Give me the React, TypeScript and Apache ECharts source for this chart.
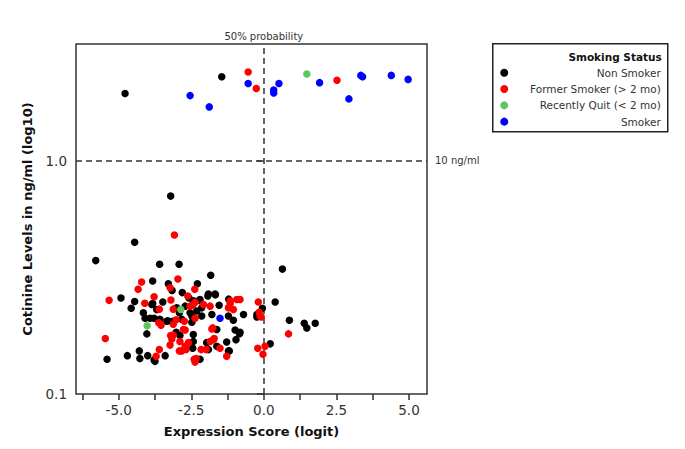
import React, { useEffect, useRef } from 'react';
import * as echarts from 'echarts';

const seriesNames = ['Non Smoker', 'Former Smoker (> 2 mo)', 'Recently Quit (< 2 mo)', 'Smoker'];
const seriesColors = ['#000000', '#ff0000', '#5fc65f', '#0000ff'];
const legendTitle = 'Smoking Status';
const xAxisTitle = 'Expression Score (logit)';
const yAxisTitle = 'Cotinine Levels in ng/ml (log10)';
const vLineLabel = '50% probability';
const hLineLabel = '10 ng/ml';

const nonSmoker: number[][] = [
  [-4.78, 1.94], [-1.45, 2.29],
  [-3.21, 0.705], [-4.45, 0.447], [-5.79, 0.373], [-3.59, 0.36], [-2.92, 0.36],
  [-1.83, 0.323], [-3.83, 0.305], [-3.29, 0.297], [-3.16, 0.278], [-2.29, 0.297],
  [-2.81, 0.272], [-4.92, 0.258], [-1.93, 0.263], [-1.67, 0.266], [-2.22, 0.252],
  [-2.58, 0.258], [-4.45, 0.249], [-1.21, 0.255], [-5.4, 0.141], [-4.7, 0.146],
  [-4.29, 0.153], [-4.27, 0.142], [-4.0, 0.146], [-3.75, 0.138], [-3.4, 0.146],
  [-4.03, 0.181], [-4.57, 0.233], [-4.15, 0.223], [-4.09, 0.211], [-3.92, 0.211],
  [-3.69, 0.23], [-3.58, 0.209], [-3.86, 0.242], [-3.31, 0.206], [-3.14, 0.205],
  [-2.91, 0.223], [-2.83, 0.209], [-3.02, 0.184], [-2.43, 0.18], [-2.43, 0.168],
  [-2.2, 0.141], [-1.97, 0.166], [-1.62, 0.16], [-1.28, 0.167], [-1.19, 0.153],
  [-1.62, 0.189], [-1.05, 0.207], [-1.22, 0.216], [-0.99, 0.188], [-0.82, 0.184],
  [-0.7, 0.219], [-0.24, 0.219], [-2.2, 0.254], [-1.68, 0.268], [-1.91, 0.268],
  [-2.14, 0.216], [-1.79, 0.219], [-2.48, 0.216], [-2.71, 0.238], [-2.31, 0.227],
  [-3.0, 0.234], [0.64, 0.343], [0.39, 0.248], [-0.24, 0.214], [0.88, 0.207],
  [1.39, 0.201], [1.48, 0.192], [1.77, 0.201], [0.22, 0.164], [-0.84, 0.181],
  [-0.96, 0.171], [-1.22, 0.153], [-0.05, 0.233], [-3.83, 0.244], [-3.48, 0.248],
  [-2.54, 0.223], [-2.43, 0.251], [-3.78, 0.211], [-3.34, 0.205], [-2.89, 0.178],
  [-2.48, 0.203], [-3.78, 0.14], [-1.54, 0.24], [-2.14, 0.234], [-1.91, 0.155],
  [-2.45, 0.157],
];

const formerSmoker: number[][] = [
  [-0.54, 2.4], [-0.26, 2.04], [2.52, 2.21],
  [-3.08, 0.48], [-4.21, 0.302], [-4.33, 0.281], [-2.96, 0.311], [-3.23, 0.285],
  [-2.38, 0.281], [-5.33, 0.252], [-3.78, 0.261], [-2.62, 0.263], [-3.2, 0.253],
  [-4.1, 0.245], [-0.93, 0.254], [-5.46, 0.173], [-3.71, 0.145], [-3.6, 0.155],
  [-3.62, 0.202], [-3.54, 0.197], [-3.6, 0.231], [-3.02, 0.208], [-2.71, 0.188],
  [-3.21, 0.178], [-2.6, 0.166], [-2.91, 0.153], [-3.23, 0.162], [-2.71, 0.16],
  [-2.33, 0.142], [-1.99, 0.155], [-1.85, 0.168], [-1.71, 0.173], [-1.51, 0.157],
  [-1.28, 0.145], [-1.79, 0.19], [-0.21, 0.157], [-2.08, 0.242], [-1.85, 0.238],
  [-1.16, 0.251], [-2.37, 0.211], [-2.37, 0.247], [-2.54, 0.238], [-0.19, 0.248],
  [-0.13, 0.216], [0.85, 0.181], [0.04, 0.16], [-0.03, 0.148], [-1.16, 0.244],
  [-1.76, 0.192], [-2.37, 0.137], [-0.16, 0.224], [-0.09, 0.214], [-3.12, 0.231],
  [-2.45, 0.24], [-3.12, 0.199], [-2.74, 0.205], [-2.77, 0.189], [-3.12, 0.179],
  [-3.17, 0.172], [-2.89, 0.168], [-2.83, 0.153], [-2.68, 0.155], [-2.4, 0.141],
  [-1.22, 0.234], [-1.05, 0.23], [-1.74, 0.171], [-2.16, 0.155], [-0.82, 0.254],
];

const recentlyQuit: number[][] = [
  [1.48, 2.35], [-4.02, 0.196], [-2.86, 0.23],
];

const smoker: number[][] = [
  [-2.54, 1.9], [-1.88, 1.7], [-0.54, 2.14], [0.34, 2.01], [0.34, 1.95], [0.52, 2.14],
  [1.92, 2.16], [2.93, 1.84], [3.34, 2.32], [3.4, 2.29], [4.39, 2.32], [4.97, 2.23],
  [-1.51, 0.211],
];

const xMin = -6.47;
const xMax = 5.62;
const yMin = 0.1;
const yMax = 3.1623;
const xTickValues = [-6.25, -5, -3.75, -2.5, -1.25, 0, 1.25, 2.5, 3.75, 5];
const xLabelValues = [-5, -2.5, 0, 2.5, 5];
const yTickValues = [0.1, 1];
const probabilityLine = 0;
const cotinineLine = 1;

const FONT = 'DejaVu Sans';

export default function App() {
  const ref = useRef<HTMLDivElement>(null);
  useEffect(() => {
    if (!ref.current) return;
    const chart = echarts.init(ref.current, null, { renderer: 'svg' });
    const allData = [nonSmoker, formerSmoker, recentlyQuit, smoker];
    const series: any[] = allData.map((d, i) => ({
      name: seriesNames[i],
      type: 'scatter',
      data: d,
      symbol: 'circle',
      symbolSize: 7.5,
      itemStyle: { color: seriesColors[i], opacity: 1 },
    }));
    const lineLabel = { show: true, position: 'end', color: '#333', fontFamily: FONT, fontSize: 10 };
    series[0].markLine = {
      silent: true,
      symbol: 'none',
      z: 1,
      lineStyle: { color: '#333', type: [6, 4], width: 1.5 },
      label: lineLabel,
      data: [
        { xAxis: probabilityLine, label: { ...lineLabel, formatter: vLineLabel, distance: 3 } },
        { yAxis: cotinineLine, label: { ...lineLabel, formatter: hLineLabel, distance: 8 } },
      ],
    };

    const legendItems: any[] = [
      {
        type: 'rect',
        shape: { x: 0, y: 0, width: 175, height: 88 },
        style: { fill: '#fff', stroke: '#222', lineWidth: 1.5 },
      },
      {
        type: 'text',
        x: 169,
        y: 13,
        style: { text: legendTitle, align: 'right', verticalAlign: 'middle', font: `bold 10.5px "${FONT}"`, fill: '#111' },
      },
    ];
    seriesNames.forEach((n, i) => {
      legendItems.push({
        type: 'circle',
        shape: { cx: 11.5, cy: 29 + 16.3 * i, r: 4 },
        style: { fill: seriesColors[i] },
      });
      legendItems.push({
        type: 'text',
        x: 168,
        y: 29 + 16.3 * i,
        style: { text: n, align: 'right', verticalAlign: 'middle', font: `10.5px "${FONT}"`, fill: '#333' },
      });
    });

    chart.setOption({
      animation: false,
      backgroundColor: '#fff',
      grid: {
        left: 76, right: 258, top: 44, bottom: 55,
        show: true, borderColor: '#333', borderWidth: 1.5, backgroundColor: 'transparent',
      },
      xAxis: {
        type: 'value',
        min: xMin,
        max: xMax,
        name: xAxisTitle,
        nameLocation: 'middle',
        nameGap: 31,
        nameTextStyle: { fontFamily: FONT, fontWeight: 'bold', fontSize: 13, color: '#111' },
        axisLine: { show: false },
        splitLine: { show: false },
        axisTick: { show: true, customValues: xTickValues, length: 6, lineStyle: { color: '#333', width: 1.5 } },
        axisLabel: {
          customValues: xLabelValues,
          formatter: (v: number) => v.toFixed(1),
          fontFamily: FONT, fontSize: 13.5, color: '#333', margin: 9,
        },
      },
      yAxis: {
        type: 'log',
        logBase: 10,
        min: yMin,
        max: yMax,
        name: yAxisTitle,
        nameLocation: 'middle',
        nameGap: 42,
        nameTextStyle: { fontFamily: FONT, fontWeight: 'bold', fontSize: 13, color: '#111' },
        axisLine: { show: false },
        splitLine: { show: false },
        minorTick: { show: false },
        axisTick: { show: true, customValues: yTickValues, length: 7, lineStyle: { color: '#333', width: 1.5 } },
        axisLabel: {
          customValues: yTickValues,
          formatter: (v: number) => v.toFixed(1),
          fontFamily: FONT, fontSize: 13.5, color: '#333', margin: 9,
        },
      },
      graphic: [{ type: 'group', left: 492, top: 43, children: legendItems }],
      series,
    });
    return () => chart.dispose();
  }, []);
  return <div ref={ref} style={{ position: 'fixed', left: 0, top: 0, width: 685, height: 449, background: '#fff' }} />;
}
